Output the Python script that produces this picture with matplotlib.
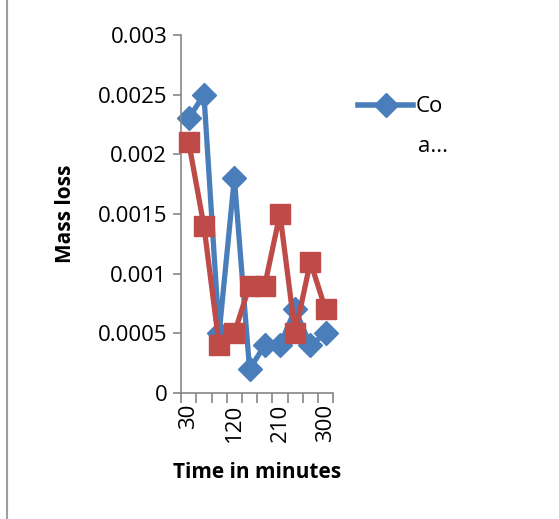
import matplotlib
matplotlib.use("Agg")
import matplotlib.pyplot as plt
from matplotlib.lines import Line2D

times = [30, 60, 90, 120, 150, 180, 210, 240, 270, 300]
series_blue = [0.0023, 0.0025, 0.0005, 0.0018, 0.0002, 0.0004, 0.0004, 0.0007, 0.0004, 0.0005]
series_red = [0.0021, 0.0014, 0.0004, 0.0005, 0.0009, 0.0009, 0.0015, 0.0005, 0.0011, 0.0007]
legend_label = "Co"
legend_label_cont = "a..."
y_ticks = [0, 0.0005, 0.001, 0.0015, 0.002, 0.0025, 0.003]
y_labels = ["0", "0.0005", "0.001", "0.0015", "0.002", "0.0025", "0.003"]

plt.rcParams['font.family'] = ['Open Sans', 'DejaVu Sans']

fig = plt.figure(figsize=(5.59, 5.19), dpi=100)
ax = fig.add_axes([0.324, 0.2428, 0.272, 0.690])

blue = '#4A7EBB'
red = '#BE4B48'
x = list(range(len(times)))
ax.plot(x, series_blue, color=blue, lw=3.8, marker='D', ms=12, zorder=2,
        label=legend_label, clip_on=False)
ax.plot(x, series_red, color=red, lw=3.8, marker='s', ms=14, zorder=3, clip_on=False)

ax.set_xlim(-0.5, len(times) - 0.5)
ax.set_ylim(0, 0.003)
ax.set_yticks(y_ticks)
ax.set_yticklabels(y_labels, fontsize=16)

# tick marks between categories
ax.set_xticks([i - 0.5 for i in range(len(times) + 1)])
ax.set_xticklabels([])
ax.tick_params(axis='x', which='major', length=7, color='#868686', width=1.2)
ax.set_xticks([0, 3, 6, 9], minor=True)
ax.set_xticklabels([str(times[i]) for i in [0, 3, 6, 9]], minor=True, rotation=90, fontsize=16)
ax.tick_params(axis='x', which='minor', length=0, pad=8)
ax.tick_params(axis='y', length=6, color='#868686', width=1.2, pad=4)

for s in ['top', 'right']:
    ax.spines[s].set_visible(False)
for s in ['left', 'bottom']:
    ax.spines[s].set_color('#868686')
    ax.spines[s].set_linewidth(1.2)

ax.set_ylabel("Mass loss", fontsize=15, fontweight='bold', labelpad=16)
ax.set_xlabel("Time in minutes", fontsize=15, fontweight='bold', labelpad=14)

handle = Line2D([], [], color=blue, lw=4, marker='D', ms=12)
leg = fig.legend([handle], [legend_label], loc='center left', bbox_to_anchor=(0.64, 0.794),
                 frameon=False, fontsize=16, handlelength=2.5, handletextpad=0.1,
                 borderaxespad=0, borderpad=0)
fig.text(0.748, 0.717, legend_label_cont, fontsize=16, ha='left', va='center')

fig.add_artist(Line2D([0.013, 0.013], [0.0, 1.0], transform=fig.transFigure,
                      color='#A0A0A0', lw=1.5))

fig.savefig("out.png", dpi=100)
